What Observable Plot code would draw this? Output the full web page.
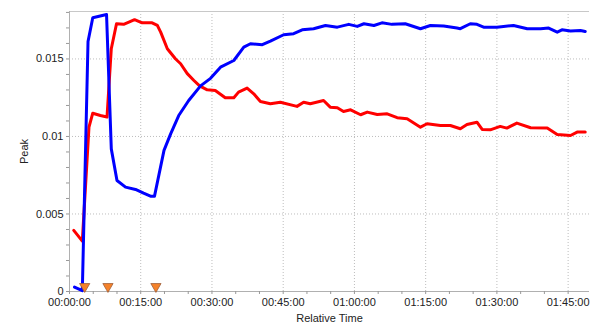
<!DOCTYPE html>
<html><head><meta charset="utf-8">
<script src="https://cdn.jsdelivr.net/npm/d3@7"></script>
<script src="https://cdn.jsdelivr.net/npm/@observablehq/plot@0.6"></script>
<style>body{margin:0;background:#fff}#chart svg{display:block}</style>
</head><body><div id="chart"></div>
<script>
// time in minutes
const blueTime  = [1.05, 2.7, 3.9, 4.9, 7.8, 8.8, 10.0, 11.8, 13.9, 15.6, 17.05, 17.9, 19.9, 21.3, 23.0, 25.1, 27.6, 29.7, 31.8, 34.6, 36.7, 38.1, 40.6, 42.3, 45.1, 47.2, 49.0, 51.4, 53.9, 56.4, 58.8, 60.6, 62.0, 64.1, 65.8, 67.9, 70.7, 73.9, 76.0, 78.8, 81.6, 82.3, 84.4, 85.8, 87.2, 90.0, 93.5, 96.4, 99.2, 100.9, 102.7, 103.7, 105.5, 107.6, 108.6];
const blueValue = [0.00028, 0.00005, 0.01613, 0.01766, 0.01787, 0.0092, 0.00716, 0.00673, 0.00658, 0.00634, 0.00615, 0.00615, 0.0091, 0.01017, 0.01135, 0.01232, 0.01326, 0.01375, 0.01447, 0.0149, 0.01576, 0.01598, 0.01592, 0.01615, 0.01656, 0.01663, 0.01688, 0.01695, 0.01716, 0.01705, 0.01723, 0.0171, 0.01727, 0.01716, 0.01733, 0.01723, 0.01727, 0.01695, 0.01716, 0.01712, 0.01699, 0.01695, 0.01727, 0.01723, 0.01705, 0.01705, 0.01716, 0.01695, 0.01695, 0.01699, 0.01673, 0.01688, 0.0168, 0.01684, 0.01677];
const redTime  = [0.9, 2.7, 4.1, 4.9, 6.5, 7.9, 8.8, 9.9, 11.4, 12.5, 13.7, 15.3, 17.4, 18.5, 19.2, 20.6, 22.3, 23.4, 24.8, 26.2, 27.4, 29.0, 30.7, 32.8, 34.6, 35.6, 37.4, 38.8, 40.2, 42.3, 44.4, 47.9, 49.3, 50.7, 53.5, 54.9, 56.4, 57.7, 59.2, 61.3, 62.7, 64.8, 66.9, 69.0, 71.1, 73.9, 75.3, 78.1, 80.2, 82.3, 83.7, 85.8, 86.9, 88.6, 90.7, 92.1, 94.2, 97.1, 100.6, 102.7, 105.5, 106.9, 108.6];
const redValue = [0.00394, 0.00325, 0.0106, 0.0115, 0.01135, 0.01125, 0.01566, 0.01727, 0.01723, 0.01737, 0.01753, 0.01733, 0.01733, 0.01716, 0.01673, 0.01566, 0.01501, 0.01469, 0.01405, 0.01361, 0.01326, 0.01301, 0.01297, 0.0125, 0.0125, 0.01286, 0.01312, 0.01275, 0.01226, 0.01211, 0.01221, 0.01194, 0.01221, 0.01211, 0.01232, 0.01189, 0.01185, 0.01161, 0.01172, 0.0114, 0.01157, 0.01142, 0.01146, 0.01121, 0.01114, 0.0106, 0.01082, 0.01071, 0.01071, 0.0105, 0.01077, 0.01092, 0.01045, 0.01043, 0.01065, 0.01054, 0.01086, 0.01056, 0.01054, 0.01013, 0.01006, 0.01028, 0.01028];
const markerTime = [3.2, 8.1, 18.2];
const xMajorTicks = [0, 15, 30, 45, 60, 75, 90, 105];
const xTickLabels = ["00:00:00", "00:15:00", "00:30:00", "00:45:00", "01:00:00", "01:15:00", "01:30:00", "01:45:00"];
const yMajorTicks = [0, 0.005, 0.01, 0.015];
const yTickLabels = ["0", "0.005", "0.01", "0.015"];

const blue = blueTime.map((t, i) => ({t, v: blueValue[i]}));
const red = redTime.map((t, i) => ({t, v: redValue[i]}));
const xMinor = d3.range(0, 110, 5);
const yMinor = d3.range(0, 0.0181, 0.001);
const xDomain = [0, 109.5], yDomain = [0, 0.01806];

const chart = Plot.plot({
  width: 590, height: 323,
  marginLeft: 69, marginRight: 1, marginTop: 11, marginBottom: 32,
  style: {fontFamily: "'Liberation Sans', Arial, sans-serif", fontSize: "11px", color: "#222", background: "#fff"},
  x: {domain: xDomain},
  y: {domain: yDomain},
  marks: [
    Plot.gridX(xMajorTicks.slice(1), {stroke: "#bdbdbd", strokeOpacity: 1, strokeDasharray: "1,2"}),
    Plot.gridY(yMajorTicks.slice(1), {stroke: "#bdbdbd", strokeOpacity: 1, strokeDasharray: "1,2"}),
    Plot.ruleY([yDomain[1]], {stroke: "#c8c8c8"}),
    Plot.ruleY([0], {stroke: "#b0b0b0"}),
    Plot.ruleX([0], {stroke: "#b0b0b0"}),
    Plot.axisY(yMinor, {tickSize: 3, text: null, stroke: "#999", label: null}),
    Plot.axisY(yMajorTicks, {tickSize: 0, tickPadding: 6, tickFormat: (d, i) => yTickLabels[i], label: "Peak", labelAnchor: "center", labelArrow: "none", labelOffset: 49}),
    Plot.axisX(xMinor, {tickSize: 3, text: null, stroke: "#999", label: null}),
    Plot.axisX(xMajorTicks, {tickSize: 0, tickPadding: 7, tickFormat: (d, i) => xTickLabels[i], label: "Relative Time", labelAnchor: "center", labelArrow: "none", labelOffset: 30}),
    Plot.line(red, {x: "t", y: "v", stroke: "#ff0000", strokeWidth: 3}),
    Plot.line(blue, {x: "t", y: "v", stroke: "#0000ff", strokeWidth: 3}),
    Plot.dot(markerTime, {x: d => d, y: 0, dy: -5, symbol: "triangle", rotate: 180, r: 3.8, fill: "#f5822a", stroke: "#a0603a", strokeWidth: 0.8})
  ]
});
document.getElementById("chart").append(chart);
</script>
</body></html>
